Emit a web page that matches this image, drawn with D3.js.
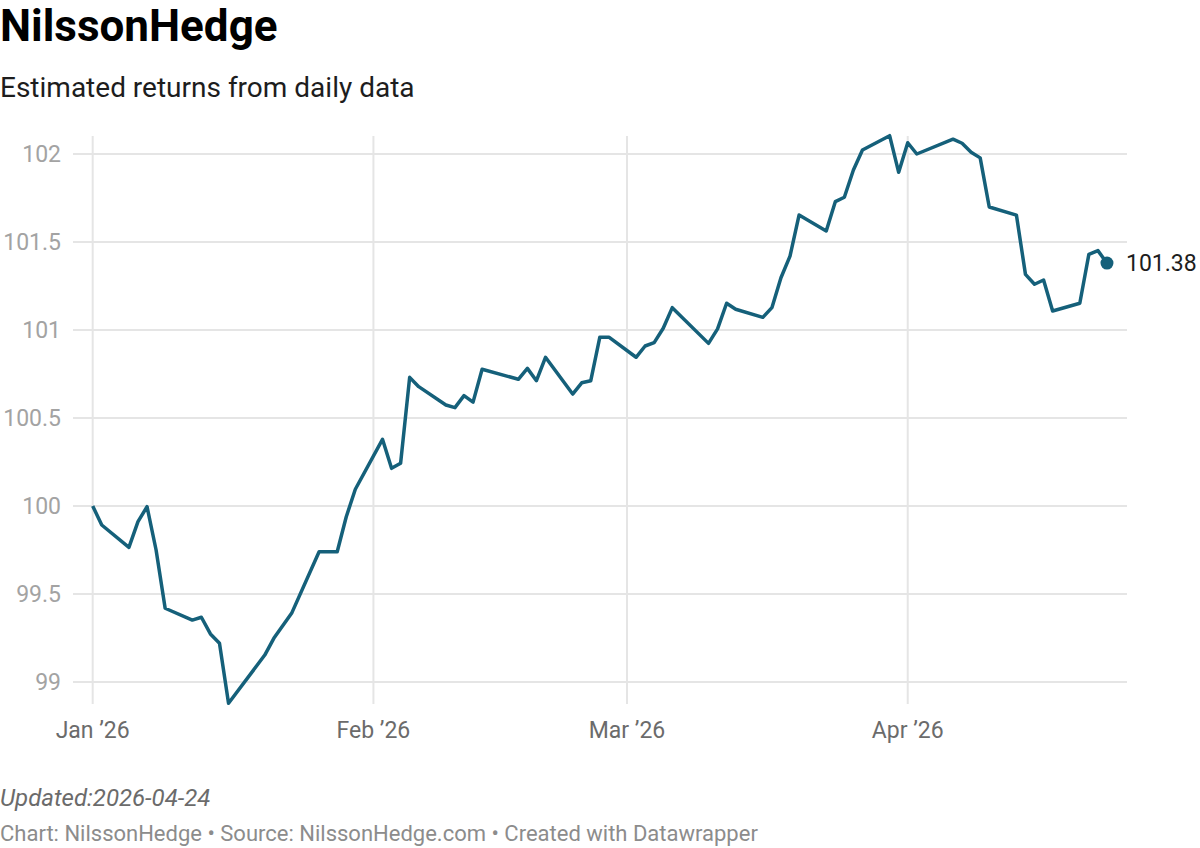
<!DOCTYPE html>
<html>
<head>
<meta charset="utf-8">
<script src="https://cdn.jsdelivr.net/npm/d3@7"></script>
<style>
  body { margin: 0; background: #fff; }
  svg { display: block; font-family: Roboto, "Noto Sans", sans-serif; }
</style>
</head>
<body>
<div id="chart"></div>
<script>
// Data (index values, trading days)
const dates = [
  "2026-01-01","2026-01-02","2026-01-05","2026-01-06","2026-01-07","2026-01-08","2026-01-09",
  "2026-01-12","2026-01-13","2026-01-14","2026-01-15","2026-01-16",
  "2026-01-20","2026-01-21","2026-01-23",
  "2026-01-26","2026-01-27","2026-01-28","2026-01-29","2026-01-30",
  "2026-02-02","2026-02-03","2026-02-04","2026-02-05","2026-02-06",
  "2026-02-09","2026-02-10","2026-02-11","2026-02-12","2026-02-13",
  "2026-02-17","2026-02-18","2026-02-19","2026-02-20",
  "2026-02-23","2026-02-24","2026-02-25","2026-02-26","2026-02-27",
  "2026-03-02","2026-03-03","2026-03-04","2026-03-05","2026-03-06",
  "2026-03-10","2026-03-11","2026-03-12","2026-03-13",
  "2026-03-16","2026-03-17","2026-03-18","2026-03-19","2026-03-20",
  "2026-03-23","2026-03-24","2026-03-25","2026-03-26","2026-03-27",
  "2026-03-30","2026-03-31","2026-04-01","2026-04-02",
  "2026-04-06","2026-04-07","2026-04-08","2026-04-09","2026-04-10",
  "2026-04-13","2026-04-14","2026-04-15","2026-04-16","2026-04-17",
  "2026-04-20","2026-04-21","2026-04-22","2026-04-23"
];
const values = [
  100.00, 99.892, 99.765, 99.911, 99.996, 99.75, 99.419,
  99.352, 99.368, 99.273, 99.22, 98.879,
  99.153, 99.248, 99.394,
  99.74, 99.74, 99.74, 99.939, 100.095,
  100.379, 100.214, 100.243, 100.731, 100.678,
  100.574, 100.559, 100.627, 100.59, 100.777,
  100.72, 100.782, 100.712, 100.845,
  100.636, 100.70, 100.712, 100.959, 100.959,
  100.845, 100.909, 100.928, 101.01, 101.127,
  100.924, 101.006, 101.152, 101.118,
  101.072, 101.127, 101.297, 101.42, 101.653,
  101.563, 101.729, 101.754, 101.909, 102.023,
  102.104, 101.896, 102.064, 102.0,
  102.084, 102.061, 102.01, 101.978, 101.699,
  101.653, 101.316, 101.26, 101.284, 101.108,
  101.152, 101.43, 101.451, 101.38
];
const yTicks = [99, 99.5, 100, 100.5, 101, 101.5, 102];
const xTickDates = ["2026-01-01", "2026-02-01", "2026-03-01", "2026-04-01"];
const xTickLabels = ["Jan \u201926", "Feb \u201926", "Mar \u201926", "Apr \u201926"];

const title = "NilssonHedge";
const subtitle = "Estimated returns from daily data";
const updated = "Updated:2026-04-24";
const credits = "Chart: NilssonHedge \u2022 Source: NilssonHedge.com \u2022 Created with Datawrapper";

const W = 1200, H = 848;
const parse = d3.timeParse("%Y-%m-%d");
const data = dates.map((d, i) => ({ date: parse(d), value: values[i] }));

const svg = d3.select("#chart").append("svg")
    .attr("width", W).attr("height", H);

// scales
const x = d3.scaleTime()
    .domain([parse("2026-01-01"), parse("2026-04-23")])
    .range([92.7, 92.7 + 112 * 9.056]);
const y = d3.scaleLinear()
    .domain([99, 102])
    .range([682, 154]);

const gridLeft = 73, gridRight = 1127;
const plotTop = 136, plotBottom = 704;

// horizontal grid
svg.append("g").selectAll("line")
    .data(yTicks).enter().append("line")
    .attr("x1", gridLeft).attr("x2", gridRight)
    .attr("y1", d => y(d)).attr("y2", d => y(d))
    .attr("stroke", "#e5e5e5").attr("stroke-width", 2);

// vertical grid
svg.append("g").selectAll("line")
    .data(xTickDates).enter().append("line")
    .attr("x1", d => x(parse(d))).attr("x2", d => x(parse(d)))
    .attr("y1", plotTop).attr("y2", plotBottom)
    .attr("stroke", "#e5e5e5").attr("stroke-width", 2);

// y labels
svg.append("g").selectAll("text")
    .data(yTicks).enter().append("text")
    .attr("x", 61).attr("y", d => y(d))
    .attr("dy", "0.36em")
    .attr("text-anchor", "end")
    .attr("font-size", "23px")
    .attr("fill", "#a3a3a3")
    .text(d => d3.format("~g")(d));

// x labels
svg.append("g").selectAll("text")
    .data(xTickDates).enter().append("text")
    .attr("x", d => x(parse(d))).attr("y", 738)
    .attr("text-anchor", "middle")
    .attr("font-size", "23px")
    .attr("fill", "#6b6b6b")
    .text((d, i) => xTickLabels[i]);

// line
const line = d3.line()
    .x(d => x(d.date))
    .y(d => y(d.value));

svg.append("path")
    .datum(data)
    .attr("fill", "none")
    .attr("stroke", "#15607a")
    .attr("stroke-width", 3.5)
    .attr("stroke-linejoin", "round")
    .attr("d", line);

// end dot + label
const last = data[data.length - 1];
svg.append("circle")
    .attr("cx", x(last.date)).attr("cy", y(last.value))
    .attr("r", 6.5)
    .attr("fill", "#15607a");
svg.append("text")
    .attr("x", x(last.date) + 19).attr("y", y(last.value))
    .attr("dy", "0.36em")
    .attr("font-size", "23px")
    .attr("fill", "#1d1d1d")
    .text(d3.format(".2f")(last.value));

// header
svg.append("text")
    .attr("x", 0).attr("y", 40.5)
    .attr("font-size", "44px")
    .attr("font-weight", "bold")
    .attr("fill", "#000")
    .text(title);
svg.append("text")
    .attr("x", 0).attr("y", 96.5)
    .attr("font-size", "28px")
    .attr("fill", "#1d1d1d")
    .text(subtitle);

// footer
svg.append("text")
    .attr("x", 0).attr("y", 806)
    .attr("font-size", "24px")
    .attr("font-style", "italic")
    .attr("fill", "#6b6b6b")
    .text(updated);
svg.append("text")
    .attr("x", 0).attr("y", 841)
    .attr("font-size", "22px")
    .attr("fill", "#8c8c8c")
    .text(credits);
</script>
</body>
</html>
